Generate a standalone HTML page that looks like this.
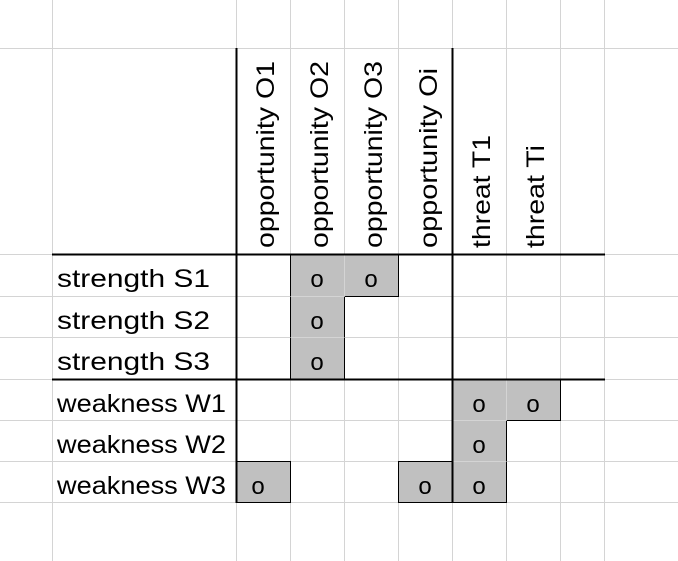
<!DOCTYPE html>
<html><head><style>
html,body{margin:0;padding:0;background:#fff;}
svg{display:block;}
text{font-family:"Liberation Sans",sans-serif;fill:#000;}
</style></head><body>
<svg width="678" height="561" viewBox="0 0 678 561" xmlns="http://www.w3.org/2000/svg">
<g stroke="#d4d4d4" stroke-width="1">
<line x1="52.5" y1="0" x2="52.5" y2="561"/>
<line x1="236.5" y1="0" x2="236.5" y2="561"/>
<line x1="290.5" y1="0" x2="290.5" y2="561"/>
<line x1="344.5" y1="0" x2="344.5" y2="561"/>
<line x1="398.5" y1="0" x2="398.5" y2="561"/>
<line x1="452.5" y1="0" x2="452.5" y2="561"/>
<line x1="506.5" y1="0" x2="506.5" y2="561"/>
<line x1="560.5" y1="0" x2="560.5" y2="561"/>
<line x1="604.5" y1="0" x2="604.5" y2="561"/>
<line x1="0" y1="48.5" x2="678" y2="48.5"/>
<line x1="0" y1="254.5" x2="678" y2="254.5"/>
<line x1="0" y1="296.5" x2="678" y2="296.5"/>
<line x1="0" y1="337.5" x2="678" y2="337.5"/>
<line x1="0" y1="379.5" x2="678" y2="379.5"/>
<line x1="0" y1="420.5" x2="678" y2="420.5"/>
<line x1="0" y1="461.5" x2="678" y2="461.5"/>
<line x1="0" y1="502.5" x2="678" y2="502.5"/>
</g>
<g fill="#c0c0c0" stroke="#000" stroke-width="1">
<path d="M290.5 254.5 H398.5 V296.5 H344.5 V379.5 H290.5 Z"/>
<path d="M452.5 379.5 H560.5 V420.5 H506.5 V502.5 H452.5 Z"/>
<rect x="236.5" y="461.5" width="54" height="41"/>
<rect x="398.5" y="461.5" width="54" height="41"/>
<line x1="452.5" y1="461.5" x2="506.5" y2="461.5" stroke="#d4d4d4"/>
<line x1="452.5" y1="420.5" x2="506.5" y2="420.5" stroke="#d4d4d4"/>
<line x1="290.5" y1="296.5" x2="344.5" y2="296.5" stroke="#d4d4d4"/>
<line x1="290.5" y1="337.5" x2="344.5" y2="337.5" stroke="#d4d4d4"/>
<line x1="344.5" y1="254.5" x2="344.5" y2="296.5" stroke="#d4d4d4"/>
<line x1="506.5" y1="379.5" x2="506.5" y2="420.5" stroke="#d4d4d4"/>
</g>
<g stroke="#000" stroke-width="2">
<line x1="236.5" y1="48" x2="236.5" y2="503"/>
<line x1="452.5" y1="48" x2="452.5" y2="503"/>
<line x1="52" y1="254.5" x2="605" y2="254.5"/>
<line x1="52" y1="379.5" x2="605" y2="379.5"/>
</g>
<g font-size="25">
<text transform="translate(274,248) rotate(-90)" textLength="187" lengthAdjust="spacingAndGlyphs">opportunity O1</text>
<text transform="translate(328,248) rotate(-90)" textLength="187" lengthAdjust="spacingAndGlyphs">opportunity O2</text>
<text transform="translate(382,248) rotate(-90)" textLength="187" lengthAdjust="spacingAndGlyphs">opportunity O3</text>
<text transform="translate(437,248) rotate(-90)" textLength="180" lengthAdjust="spacingAndGlyphs">opportunity Oi</text>
<text transform="translate(490,248) rotate(-90)" textLength="113" lengthAdjust="spacingAndGlyphs">threat T1</text>
<text transform="translate(544,248) rotate(-90)" textLength="103" lengthAdjust="spacingAndGlyphs">threat Ti</text>
</g>
<g font-size="25">
<text x="57" y="287" textLength="153" lengthAdjust="spacingAndGlyphs">strength S1</text>
<text x="57" y="329" textLength="153" lengthAdjust="spacingAndGlyphs">strength S2</text>
<text x="57" y="370" textLength="153" lengthAdjust="spacingAndGlyphs">strength S3</text>
<text x="57" y="412" textLength="169" lengthAdjust="spacingAndGlyphs">weakness W1</text>
<text x="57" y="453" textLength="169" lengthAdjust="spacingAndGlyphs">weakness W2</text>
<text x="57" y="494" textLength="169" lengthAdjust="spacingAndGlyphs">weakness W3</text>
</g>
<g font-size="24" text-anchor="middle">
<text x="317" y="287">o</text>
<text x="371" y="287">o</text>
<text x="317" y="329">o</text>
<text x="317" y="370">o</text>
<text x="479" y="412">o</text>
<text x="533" y="412">o</text>
<text x="479" y="453">o</text>
<text x="479" y="494">o</text>
<text x="425" y="494">o</text>
<text x="258" y="494">o</text>
</g>
</svg>
</body></html>
